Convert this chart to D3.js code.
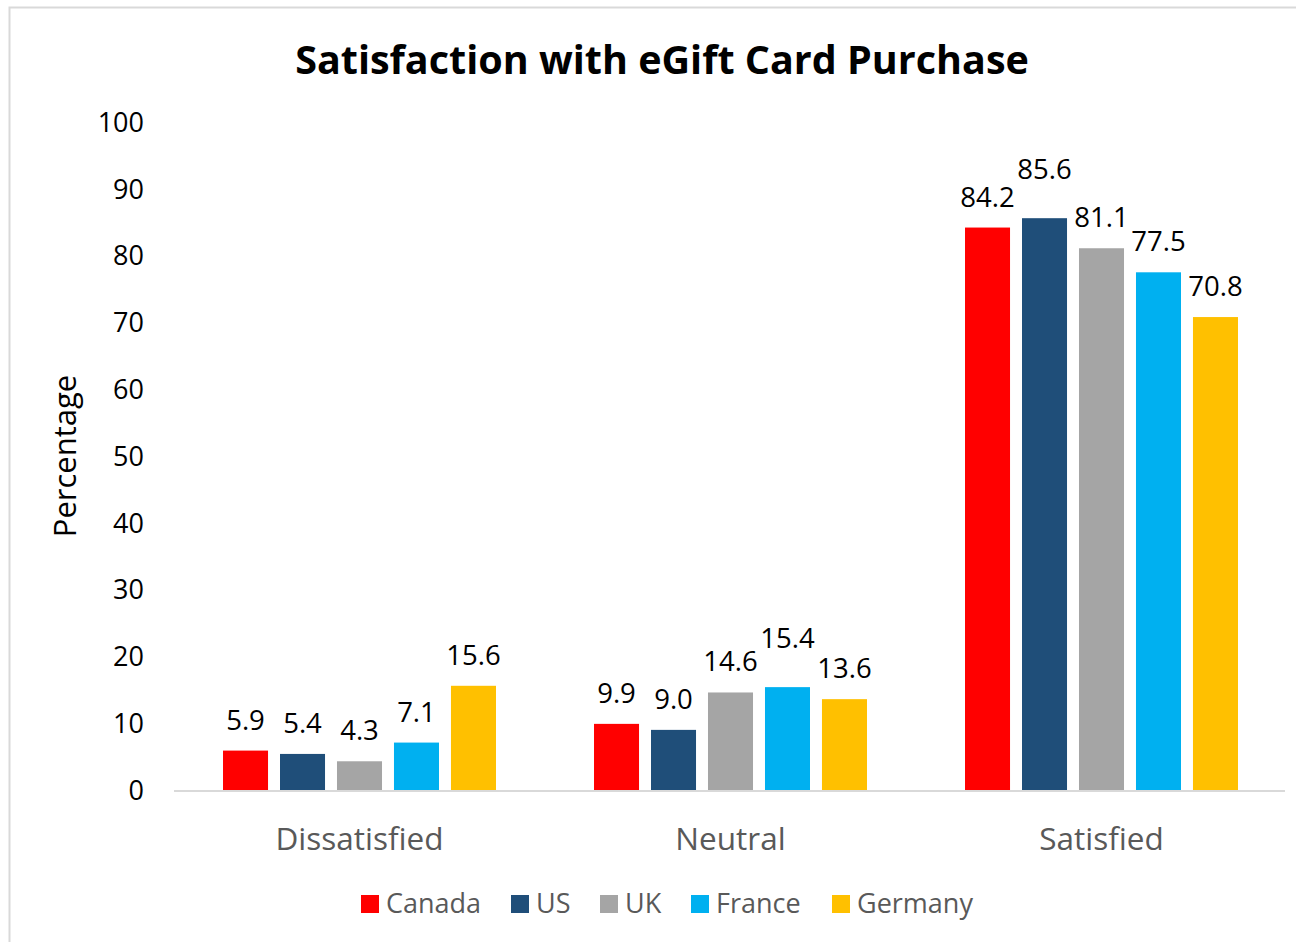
<!DOCTYPE html>
<html lang="en">
<head>
    <meta charset="UTF-8">
    <title>Satisfaction with eGift Card Purchase</title>
    <script src="https://d3js.org/d3.v7.min.js"></script>
</head>
<style>
    body{
        margin: 0;
        background-color: #fff;
    }
    text{
        font-family: "Open Sans", sans-serif;
    }
</style>
<body>
    <script>
    // data
    const categories = ["Dissatisfied", "Neutral", "Satisfied"];
    const series = ["Canada", "US", "UK", "France", "Germany"];
    const colors = ["#ff0000", "#1f4e79", "#a5a5a5", "#00b0f0", "#ffc000"];
    const values = {
        Canada:  [5.9, 9.9, 84.2],
        US:      [5.4, 9.0, 85.6],
        UK:      [4.3, 14.6, 81.1],
        France:  [7.1, 15.4, 77.5],
        Germany: [15.6, 13.6, 70.8]
    };
    const yTicks = [0, 10, 20, 30, 40, 50, 60, 70, 80, 90, 100];
    // labels Excel pushed up to avoid overlapping neighbours
    const liftedLabels = ["Satisfied|US", "Neutral|France"];

    const width = 1296;
    const height = 942;
    const margin = { top: 122, right: 9, bottom: 152, left: 174 };

    const rows = [];
    categories.forEach((c, i) => {
        series.forEach(s => rows.push({ category: c, series: s, value: values[s][i] }));
    });

    const svg = d3.select('body')
        .append('svg')
        .attr('width', width)
        .attr('height', height);

    // chart frame
    svg.append('rect')
        .attr('x', 9.5)
        .attr('y', 7.5)
        .attr('width', 1320)
        .attr('height', 960)
        .attr('fill', 'none')
        .attr('stroke', '#d9d9d9')
        .attr('stroke-width', 2);

    const x0 = d3.scaleBand()
        .domain(categories)
        .range([margin.left, width - margin.right]);

    const x1 = d3.scaleBand()
        .domain(series)
        .range([0, x0.bandwidth()])
        .paddingInner(0.21)
        .paddingOuter(0.86);

    const color = d3.scaleOrdinal().domain(series).range(colors);

    const yScale = d3.scaleLinear()
        .domain([0, 100])
        .range([height - margin.bottom, margin.top]);

    // title
    svg.append('text')
        .attr('x', 662)
        .attr('y', 74)
        .attr('text-anchor', 'middle')
        .attr('font-size', 39.5)
        .attr('font-weight', 'bold')
        .attr('fill', '#000')
        .text('Satisfaction with eGift Card Purchase');

    // y tick labels
    svg.append('g')
        .selectAll('text')
        .data(yTicks)
        .enter()
        .append('text')
        .attr('x', 144)
        .attr('y', d => yScale(d))
        .attr('dy', '0.36em')
        .attr('text-anchor', 'end')
        .attr('font-size', 27)
        .attr('fill', '#000')
        .text(d => d);

    // y axis title
    svg.append('text')
        .attr('transform', `translate(76, ${yScale(50)}) rotate(-90)`)
        .attr('text-anchor', 'middle')
        .attr('font-size', 31)
        .attr('fill', '#000')
        .text('Percentage');

    // bars
    svg.append('g')
        .selectAll('rect')
        .data(rows)
        .enter()
        .append('rect')
        .attr('x', d => x0(d.category) + x1(d.series))
        .attr('y', d => yScale(d.value))
        .attr('width', x1.bandwidth())
        .attr('height', d => yScale(0) - yScale(d.value))
        .attr('fill', d => color(d.series));

    // data labels
    svg.append('g')
        .selectAll('text')
        .data(rows)
        .enter()
        .append('text')
        .attr('x', d => x0(d.category) + x1(d.series) + x1.bandwidth() / 2)
        .attr('y', d => yScale(d.value) - (liftedLabels.includes(d.category + '|' + d.series) ? 39 : 21))
        .attr('text-anchor', 'middle')
        .attr('font-size', 27.5)
        .attr('fill', '#000')
        .text(d => d.value.toFixed(1));

    // baseline
    svg.append('line')
        .attr('x1', margin.left)
        .attr('x2', 1285)
        .attr('y1', yScale(0) + 1)
        .attr('y2', yScale(0) + 1)
        .attr('stroke', '#d9d9d9')
        .attr('stroke-width', 2);

    // category labels
    svg.append('g')
        .selectAll('text')
        .data(categories)
        .enter()
        .append('text')
        .attr('x', d => x0(d) + x0.bandwidth() / 2)
        .attr('y', 850)
        .attr('text-anchor', 'middle')
        .attr('font-size', 31.5)
        .attr('fill', '#595959')
        .text(d => d);

    // legend
    const legendX = [361, 511, 600, 691, 832];
    const legend = svg.append('g')
        .selectAll('g')
        .data(series)
        .enter()
        .append('g')
        .attr('transform', (d, i) => `translate(${legendX[i]}, 895)`);

    legend.append('rect')
        .attr('width', 18)
        .attr('height', 18)
        .attr('fill', d => color(d));

    legend.append('text')
        .attr('x', 25)
        .attr('y', 18)
        .attr('font-size', 27)
        .attr('fill', '#595959')
        .text(d => d);
    </script>
</body>
</html>
